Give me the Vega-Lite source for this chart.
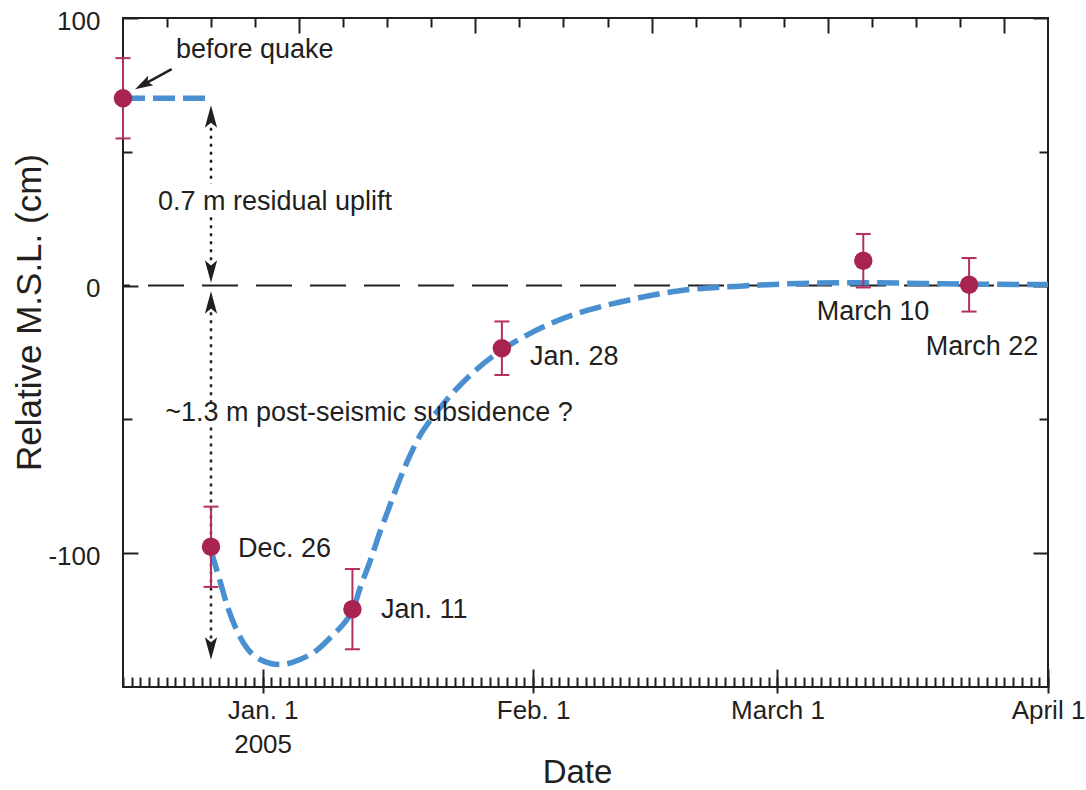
{
  "$schema": "https://vega.github.io/schema/vega-lite/v6.json",
  "width": 925,
  "height": 669,
  "autosize": {"type": "none"},
  "padding": {"left": 123, "top": 18, "right": 38, "bottom": 103},
  "background": "white",
  "config": {
    "view": {"stroke": "#231f20", "strokeWidth": 2},
    "font": "Liberation Sans",
    "axis": {"domain": false, "grid": false, "labelFont": "Liberation Sans", "labelFontSize": 26, "labelColor": "#231f20", "tickColor": "#231f20", "tickWidth": 2, "titleFont": "Liberation Sans", "titleFontSize": 32, "titleFontWeight": "normal", "titleColor": "#231f20", "labelOverlap": false},
    "text": {"font": "Liberation Sans", "fontSize": 27, "color": "#231f20"}
  },
  "datasets": {
    "obs": [
      {"date": "2004-12-16T00:00:00Z", "value": 70, "lo": 55, "hi": 85},
      {"date": "2004-12-26T02:00:00Z", "value": -97.6, "lo": -112.6, "hi": -82.6},
      {"date": "2005-01-11T07:00:00Z", "value": -120.9, "lo": -135.9, "hi": -105.9},
      {"date": "2005-01-28T10:00:00Z", "value": -23.4, "lo": -33.4, "hi": -13.4},
      {"date": "2005-03-10T20:00:00Z", "value": 9.3, "lo": -0.7, "hi": 19.3},
      {"date": "2005-03-22T23:00:00Z", "value": 0.3, "lo": -9.7, "hi": 10.3}
    ],
    "curve": [
      {"date": "2004-12-26T02:00:00Z", "value": -99},
      {"date": "2004-12-27T03:00:00Z", "value": -110.5},
      {"date": "2004-12-28T01:00:00Z", "value": -120.6},
      {"date": "2004-12-29T01:30:00Z", "value": -129},
      {"date": "2004-12-30T05:00:00Z", "value": -135.5},
      {"date": "2004-12-31T17:00:00Z", "value": -139.7},
      {"date": "2005-01-03T00:00:00Z", "value": -141.6},
      {"date": "2005-01-05T06:45:00Z", "value": -139.7},
      {"date": "2005-01-07T05:30:00Z", "value": -136.2},
      {"date": "2005-01-09T01:40:00Z", "value": -130.5},
      {"date": "2005-01-10T16:00:00Z", "value": -124.8},
      {"date": "2005-01-11T08:40:00Z", "value": -121},
      {"date": "2005-01-12T04:00:00Z", "value": -113},
      {"date": "2005-01-13T07:30:00Z", "value": -103},
      {"date": "2005-01-14T11:00:00Z", "value": -92},
      {"date": "2005-01-15T14:30:00Z", "value": -82},
      {"date": "2005-01-16T12:30:00Z", "value": -74},
      {"date": "2005-01-17T13:00:00Z", "value": -66},
      {"date": "2005-01-19T01:00:00Z", "value": -56},
      {"date": "2005-01-20T12:45:00Z", "value": -49},
      {"date": "2005-01-22T19:40:00Z", "value": -40},
      {"date": "2005-01-25T02:40:00Z", "value": -32.5},
      {"date": "2005-01-28T10:20:00Z", "value": -24},
      {"date": "2005-01-31T07:00:00Z", "value": -18.5},
      {"date": "2005-02-03T06:45:00Z", "value": -13.8},
      {"date": "2005-02-07T04:00:00Z", "value": -9.3},
      {"date": "2005-02-10T14:40:00Z", "value": -6.4},
      {"date": "2005-02-17T20:00:00Z", "value": -1.9},
      {"date": "2005-02-24T17:00:00Z", "value": -0.2},
      {"date": "2005-03-03T14:00:00Z", "value": 0.8},
      {"date": "2005-03-10T11:00:00Z", "value": 1.1},
      {"date": "2005-03-17T08:00:00Z", "value": 0.8},
      {"date": "2005-03-24T05:00:00Z", "value": 0.5},
      {"date": "2005-04-01T00:00:00Z", "value": 0.4}
    ],
    "pre": [
      {"date": "2004-12-16T00:00:00Z", "value": 70},
      {"date": "2004-12-26T02:00:00Z", "value": 70}
    ],
    "dots": [
      {"date": "2004-12-26T02:00:00Z", "from": 59, "to": 38},
      {"date": "2004-12-26T02:00:00Z", "from": 25.5, "to": 9.5},
      {"date": "2004-12-26T02:00:00Z", "from": -10, "to": -44},
      {"date": "2004-12-26T02:00:00Z", "from": -53, "to": -132}
    ],
    "arrUp": [
      {"date": "2004-12-26T02:00:00Z", "value": 63.2},
      {"date": "2004-12-26T02:00:00Z", "value": -6.3}
    ],
    "arrDown": [
      {"date": "2004-12-26T02:00:00Z", "value": 5.25},
      {"date": "2004-12-26T02:00:00Z", "value": -135.6}
    ],
    "shaft": [
      {"date": "2004-12-21T13:55:00Z", "value": 80.9, "date2": "2004-12-18T06:45:00Z", "value2": 75.0}
    ],
    "head": [
      {"date": "2004-12-18T06:45:00Z", "value": 75.0}
    ],
    "labL": [
      {"text": "before quake", "date": "2004-12-22T01:40:00Z", "value": 88},
      {"text": "Dec. 26", "date": "2004-12-29T04:20:00Z", "value": -98.4},
      {"text": "Jan. 11", "date": "2005-01-14T13:40:00Z", "value": -121.2},
      {"text": "Jan. 28", "date": "2005-01-31T15:20:00Z", "value": -26.6}
    ],
    "labC": [
      {"text": "0.7 m residual uplift", "date": "2005-01-02T10:00:00Z", "value": 31.4},
      {"text": "~1.3 m post-seismic subsidence ?", "date": "2005-01-13T04:30:00Z", "value": -47.6},
      {"text": "March 10", "date": "2005-03-11T22:50:00Z", "value": -9.9},
      {"text": "March 22", "date": "2005-03-24T10:30:00Z", "value": -23}
    ]
  },
  "resolve": {"axis": {"x": "independent", "y": "independent"}},
  "layer": [
    {
      "data": {"values": [{}]},
      "mark": {"type": "rule", "strokeDash": [36, 18], "strokeWidth": 2, "color": "#231f20"},
      "encoding": {
        "y": {"datum": 0, "type": "quantitative", "scale": {"domain": [-150, 100], "nice": false, "zero": false},
          "axis": {"orient": "left", "values": [100, 0, -100], "ticks": false, "labelPadding": 23, "labelOffset": 3, "labelExpr": "datum.value == 100 ? '100' : datum.value == 0 ? '0' : '-100'", "title": "Relative M.S.L. (cm)", "titleFontSize": 35, "titleX": -94, "titleY": 294, "titleAngle": -90, "titleBaseline": "middle", "titleAlign": "center"}}
      }
    },
    {
      "data": {"name": "dots"},
      "mark": {"type": "rule", "strokeDash": [3, 5], "strokeWidth": 2.5, "color": "#231f20"},
      "encoding": {
        "x": {"field": "date", "type": "temporal", "scale": {"type": "utc", "domain": [1103155200000, 1112313600000], "nice": false},
          "axis": {"orient": "bottom", "values": [1104537600000, 1107216000000, 1109635200000, 1112313600000], "labels": false, "tickSize": -18, "title": null}},
        "y": {"field": "from", "type": "quantitative", "scale": {"domain": [-150, 100], "nice": false, "zero": false}, "axis": null},
        "y2": {"field": "to"}
      }
    },
    {
      "data": {"name": "curve"},
      "mark": {"type": "line", "color": "#4a90d0", "strokeWidth": 5.5, "strokeDash": [22, 8], "interpolate": "monotone"},
      "encoding": {
        "x": {"field": "date", "type": "temporal", "scale": {"type": "utc", "domain": [1103155200000, 1112313600000], "nice": false},
          "axis": {"orient": "bottom", "values": [1104537600000, 1107216000000, 1109635200000, 1112313600000], "ticks": false, "labelPadding": 10, "labelFlush": false, "labelLineHeight": 34, "labelExpr": "utcmonth(datum.value) == 0 ? ['Jan. 1', '2005'] : utcmonth(datum.value) == 1 ? 'Feb. 1' : utcmonth(datum.value) == 2 ? 'March 1' : 'April 1'", "title": "Date", "titleX": 454, "titleY": 95, "titleBaseline": "alphabetic", "titleAlign": "center", "titleFontSize": 33}},
        "y": {"field": "value", "type": "quantitative", "scale": {"domain": [-150, 100], "nice": false, "zero": false},
          "axis": {"orient": "left", "values": [100, 0, -100], "labels": false, "tickSize": -15, "title": null}}
      }
    },
    {
      "data": {"name": "pre"},
      "mark": {"type": "line", "color": "#4a90d0", "strokeWidth": 5.5, "strokeDash": [22, 8]},
      "encoding": {
        "x": {"field": "date", "type": "temporal", "scale": {"type": "utc", "domain": [1103155200000, 1112313600000], "nice": false},
          "axis": {"orient": "bottom", "values": [1104537600000, 1107216000000, 1109635200000, 1112313600000], "labels": false, "tickSize": 6, "title": null}},
        "y": {"field": "value", "type": "quantitative", "scale": {"domain": [-150, 100], "nice": false, "zero": false},
          "axis": {"orient": "left", "values": [50, -50], "labels": false, "tickSize": -9, "title": null}}
      }
    },
    {
      "data": {"name": "obs"},
      "mark": {"type": "rule", "color": "#b4305f", "strokeWidth": 2},
      "encoding": {
        "x": {"field": "date", "type": "temporal", "scale": {"type": "utc", "domain": [1103155200000, 1112313600000], "nice": false},
          "axis": {"orient": "bottom", "tickCount": {"interval": "day", "step": 1}, "labels": false, "tickSize": -10, "title": null}},
        "y": {"field": "lo", "type": "quantitative", "scale": {"domain": [-150, 100], "nice": false, "zero": false},
          "axis": {"orient": "right", "values": [100, 0, -100], "labels": false, "tickSize": -15, "title": null}},
        "y2": {"field": "hi"}
      }
    },
    {
      "data": {"name": "obs"},
      "transform": [{"fold": ["lo", "hi"], "as": ["end", "v"]}],
      "mark": {"type": "tick", "orient": "horizontal", "color": "#b4305f", "size": 15, "thickness": 2, "opacity": 1},
      "encoding": {
        "x": {"field": "date", "type": "temporal", "scale": {"type": "utc", "domain": [1103155200000, 1112313600000], "nice": false},
          "axis": {"orient": "top", "values": [1103591314286, 1104027428571, 1104463542857, 1105335771429, 1105771885714, 1106208000000, 1107080228571, 1107516342857, 1107952457143, 1108824685714, 1109260800000, 1109696914286, 1110569142857, 1111005257143, 1111441371429], "labels": false, "tickSize": -9, "title": null}},
        "y": {"field": "v", "type": "quantitative", "scale": {"domain": [-150, 100], "nice": false, "zero": false},
          "axis": {"orient": "right", "values": [50, -50], "labels": false, "tickSize": -9, "title": null}}
      }
    },
    {
      "data": {"name": "obs"},
      "mark": {"type": "point", "shape": "circle", "filled": true, "color": "#a8234f", "size": 340, "opacity": 1},
      "encoding": {
        "x": {"field": "date", "type": "temporal", "scale": {"type": "utc", "domain": [1103155200000, 1112313600000], "nice": false},
          "axis": {"orient": "top", "values": [1104899657143, 1106644114286, 1108388571429, 1110133028571, 1111877485714], "labels": false, "tickSize": -15, "title": null}},
        "y": {"field": "value", "type": "quantitative", "scale": {"domain": [-150, 100], "nice": false, "zero": false}, "axis": null}
      }
    },
    {
      "data": {"name": "labL"},
      "mark": {"type": "text", "align": "left", "baseline": "middle", "fontSize": 27},
      "encoding": {
        "x": {"field": "date", "type": "temporal", "scale": {"type": "utc", "domain": [1103155200000, 1112313600000], "nice": false}, "axis": null},
        "y": {"field": "value", "type": "quantitative", "scale": {"domain": [-150, 100], "nice": false, "zero": false}, "axis": null},
        "text": {"field": "text"}
      }
    },
    {
      "data": {"name": "labC"},
      "mark": {"type": "text", "align": "center", "baseline": "middle", "fontSize": 27},
      "encoding": {
        "x": {"field": "date", "type": "temporal", "scale": {"type": "utc", "domain": [1103155200000, 1112313600000], "nice": false}, "axis": null},
        "y": {"field": "value", "type": "quantitative", "scale": {"domain": [-150, 100], "nice": false, "zero": false}, "axis": null},
        "text": {"field": "text"}
      }
    },
    {
      "data": {"name": "arrUp"},
      "mark": {"type": "point", "shape": "M0,-1L0.55,1L0,0.55L-0.55,1Z", "filled": true, "color": "#231f20", "size": 500, "opacity": 1, "strokeWidth": 0},
      "encoding": {
        "x": {"field": "date", "type": "temporal", "scale": {"type": "utc", "domain": [1103155200000, 1112313600000], "nice": false}, "axis": null},
        "y": {"field": "value", "type": "quantitative", "scale": {"domain": [-150, 100], "nice": false, "zero": false}, "axis": null}
      }
    },
    {
      "data": {"name": "arrDown"},
      "mark": {"type": "point", "shape": "M0,1L0.55,-1L0,-0.55L-0.55,-1Z", "filled": true, "color": "#231f20", "size": 500, "opacity": 1, "strokeWidth": 0},
      "encoding": {
        "x": {"field": "date", "type": "temporal", "scale": {"type": "utc", "domain": [1103155200000, 1112313600000], "nice": false}, "axis": null},
        "y": {"field": "value", "type": "quantitative", "scale": {"domain": [-150, 100], "nice": false, "zero": false}, "axis": null}
      }
    },
    {
      "data": {"name": "shaft"},
      "mark": {"type": "rule", "strokeWidth": 2.5, "color": "#231f20"},
      "encoding": {
        "x": {"field": "date", "type": "temporal", "scale": {"type": "utc", "domain": [1103155200000, 1112313600000], "nice": false}, "axis": null},
        "x2": {"field": "date2"},
        "y": {"field": "value", "type": "quantitative", "scale": {"domain": [-150, 100], "nice": false, "zero": false}, "axis": null},
        "y2": {"field": "value2"}
      }
    },
    {
      "data": {"name": "head"},
      "mark": {"type": "point", "shape": "M0,-1L0.6,1L0,0.6L-0.6,1Z", "angle": 241, "filled": true, "color": "#231f20", "size": 324, "opacity": 1, "strokeWidth": 0},
      "encoding": {
        "x": {"field": "date", "type": "temporal", "scale": {"type": "utc", "domain": [1103155200000, 1112313600000], "nice": false}, "axis": null},
        "y": {"field": "value", "type": "quantitative", "scale": {"domain": [-150, 100], "nice": false, "zero": false}, "axis": null}
      }
    }
  ]
}
